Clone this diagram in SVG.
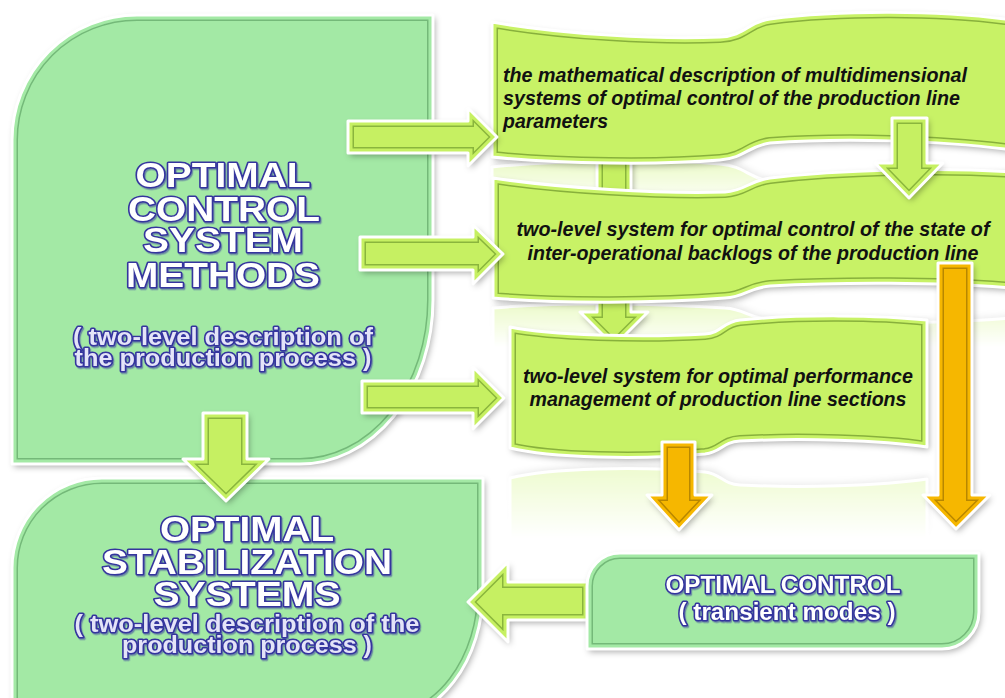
<svg xmlns="http://www.w3.org/2000/svg" xmlns:xlink="http://www.w3.org/1999/xlink" width="1005" height="698" viewBox="0 0 1005 698">
<style>
.nf{fill:#a3e9a5;filter:url(#sh)}
.bf{fill:#c8f266;filter:url(#sh)}
.gf{fill:#c6f062;filter:url(#sh)}
.of{fill:#f6b700;filter:url(#sh)}
.in{fill:none;stroke-width:12}
.in2{fill:none;stroke-width:9}
.nl{stroke:#74b979}.nl2{stroke:#a3e9a5}
.bl{stroke:#88b03c}.bl2{stroke:#c8f266}
.gl{stroke:#8ab53d}.gl2{stroke:#c6f062}
.ol{stroke:#b88700}.ol2{stroke:#f6b700}
.wb{fill:none;stroke:#fff;stroke-width:3;stroke-linejoin:round}
.t{font-family:"Liberation Sans",Arial,sans-serif;font-weight:bold;text-anchor:middle;fill:#fff;stroke:#34349e;stroke-width:3;stroke-linejoin:round;paint-order:stroke;filter:url(#tsh)}
.t36{font-size:35px}
.s24{font-size:23px;fill:#e4e4f8}
.t23{font-size:23px}
.b{font-family:"Liberation Sans",Arial,sans-serif;font-weight:bold;font-style:italic;font-size:19.5px;fill:#111}
.bc{text-anchor:middle}
</style>
<defs>
<filter id="sh" x="-10%" y="-10%" width="125%" height="130%"><feDropShadow dx="2" dy="3" stdDeviation="3" flood-color="#000" flood-opacity="0.32"/></filter>
<filter id="tsh" x="-5%" y="-20%" width="115%" height="150%"><feDropShadow dx="1.2" dy="1.5" stdDeviation="0.6" flood-color="#3a3aa0" flood-opacity="0.55"/></filter>
<linearGradient id="fade" x1="0" y1="0" x2="0" y2="1"><stop offset="0" stop-color="#fff" stop-opacity="0.4"/><stop offset="1" stop-color="#fff" stop-opacity="0"/></linearGradient>
<path id="pN1" d="M137,15 L433,15 L433,300 A133,164 0 0 1 300,464 L12,464 L12,140 A125,125 0 0 1 137,15 Z"/>
<path id="pN2" d="M102,478 L483,478 L483,590 A100,130 0 0 1 383,720 L12,720 L12,568 A90,90 0 0 1 102,478 Z"/>
<path id="pN3" d="M620,553 L979,553 L979,612 A37,37 0 0 1 942,649 L587,649 L587,586 A33,33 0 0 1 620,553 Z"/>
<path id="pB1" d="M492,22 C560,34 660,40 720,37 C745,36 748,22 770,19 C840,10 940,10 1012,20 L1012,150 C940,140 840,138 770,143 C748,146 745,158 720,160 C660,165 560,164 492,157 Z"/>
<path id="pB2" d="M493,178 C560,188 660,194 725,192 C745,191 748,181 770,178 C840,170 940,167 1012,172 L1012,288 C940,282 840,282 770,286 C748,288 745,297 725,298 C660,303 560,304 493,298 Z"/>
<path id="pB3" d="M510,327 C550,335 640,338 705,334 C722,333 722,322 740,320 C800,314 880,315 927,320 L927,447 C880,440 800,438 740,441 C722,442 722,452 705,454 C640,460 550,458 510,448 Z"/>
<path id="pA" d="M348,121 L468,121 L468,108 L497,137 L468,166 L468,153 L348,153 Z"/>
<path id="pB" d="M360,237 L473,237 L473,225 L503,254 L473,284 L473,270 L360,270 Z"/>
<path id="pC" d="M362,381 L473,381 L473,367 L504,398 L473,429 L473,413 L362,413 Z"/>
<path id="pD1" d="M203,413 L247,413 L247,459 L269,459 L226,501 L183,459 L203,459 Z"/>
<path id="pD2" d="M892,118 L927,118 L927,163 L943,163 L909,198 L875,163 L892,163 Z"/>
<path id="pH" d="M597,150 L631,150 L631,312 L648,312 L614,346 L580,312 L597,312 Z"/>
<path id="pO1" d="M662,442 L695,442 L695,495 L712,495 L679,530 L647,495 L662,495 Z"/>
<path id="pO2" d="M938,263 L972,263 L972,495 L990,495 L956,529 L923,495 L938,495 Z"/>
<path id="pL" d="M588,582 L508,582 L508,562 L468,602 L508,642 L508,620 L588,620 Z"/>
<clipPath id="cN1"><use xlink:href="#pN1"/></clipPath>
<clipPath id="cN2"><use xlink:href="#pN2"/></clipPath>
<clipPath id="cN3"><use xlink:href="#pN3"/></clipPath>
<clipPath id="cB1"><use xlink:href="#pB1"/></clipPath>
<clipPath id="cB2"><use xlink:href="#pB2"/></clipPath>
<clipPath id="cB3"><use xlink:href="#pB3"/></clipPath>
<clipPath id="cA"><use xlink:href="#pA"/></clipPath>
<clipPath id="cB"><use xlink:href="#pB"/></clipPath>
<clipPath id="cC"><use xlink:href="#pC"/></clipPath>
<clipPath id="cD1"><use xlink:href="#pD1"/></clipPath>
<clipPath id="cD2"><use xlink:href="#pD2"/></clipPath>
<clipPath id="cH"><use xlink:href="#pH"/></clipPath>
<clipPath id="cO1"><use xlink:href="#pO1"/></clipPath>
<clipPath id="cO2"><use xlink:href="#pO2"/></clipPath>
<clipPath id="cL"><use xlink:href="#pL"/></clipPath>
<mask id="m1" maskUnits="userSpaceOnUse" x="470" y="150" width="560" height="70"><rect x="470" y="156" width="560" height="50" fill="url(#fade)"/></mask>
<mask id="m2" maskUnits="userSpaceOnUse" x="470" y="290" width="560" height="70"><rect x="470" y="297" width="560" height="50" fill="url(#fade)"/></mask>
<mask id="m3" maskUnits="userSpaceOnUse" x="470" y="440" width="560" height="120"><rect x="470" y="448" width="560" height="90" fill="url(#fade)"/></mask>
</defs>
<rect width="1005" height="698" fill="#fff"/>

<g id="node-methods">
<use xlink:href="#pN1" class="nf"/>
<use xlink:href="#pN1" class="in nl" clip-path="url(#cN1)"/>
<use xlink:href="#pN1" class="in2 nl2" clip-path="url(#cN1)"/>
<use xlink:href="#pN1" class="wb"/>
<text class="t t36" x="223" y="187" textLength="175" lengthAdjust="spacingAndGlyphs">OPTIMAL</text>
<text class="t t36" x="224" y="221" textLength="192" lengthAdjust="spacingAndGlyphs">CONTROL</text>
<text class="t t36" x="223" y="252" textLength="160" lengthAdjust="spacingAndGlyphs">SYSTEM</text>
<text class="t t36" x="223" y="287" textLength="194" lengthAdjust="spacingAndGlyphs">METHODS</text>
<text class="t s24" x="223" y="345" textLength="300" lengthAdjust="spacingAndGlyphs">( two-level description of</text>
<text class="t s24" x="223" y="366" textLength="297" lengthAdjust="spacingAndGlyphs">the production process )</text>
</g>

<g id="node-stabilization">
<use xlink:href="#pN2" class="nf"/>
<use xlink:href="#pN2" class="in nl" clip-path="url(#cN2)"/>
<use xlink:href="#pN2" class="in2 nl2" clip-path="url(#cN2)"/>
<use xlink:href="#pN2" class="wb"/>
<text class="t t36" x="247" y="541" textLength="174" lengthAdjust="spacingAndGlyphs">OPTIMAL</text>
<text class="t t36" x="247" y="574" textLength="290" lengthAdjust="spacingAndGlyphs">STABILIZATION</text>
<text class="t t36" x="247" y="606" textLength="187" lengthAdjust="spacingAndGlyphs">SYSTEMS</text>
<text class="t s24" x="247" y="632" textLength="345" lengthAdjust="spacingAndGlyphs">( two-level description of the</text>
<text class="t s24" x="247" y="653" textLength="250" lengthAdjust="spacingAndGlyphs">production process )</text>
</g>

<g id="reflections">
<g mask="url(#m1)"><g transform="matrix(1,0,0,-1,0,324)"><use xlink:href="#pB1" class="bf"/><use xlink:href="#pB1" class="wb"/></g></g>
<g mask="url(#m2)"><g transform="matrix(1,0,0,-1,0,606)"><use xlink:href="#pB2" class="bf"/><use xlink:href="#pB2" class="wb"/></g></g>
<g mask="url(#m3)"><g transform="matrix(1,0,0,-1,0,926)"><use xlink:href="#pB3" class="bf"/><use xlink:href="#pB3" class="wb"/></g></g>
</g>

<g id="connectors-back">
<g id="arrow-math-to-sections">
<use xlink:href="#pH" class="gf"/>
<use xlink:href="#pH" class="in gl" clip-path="url(#cH)"/>
<use xlink:href="#pH" class="in2 gl2" clip-path="url(#cH)"/>
<use xlink:href="#pH" class="wb"/>
</g>
</g>

<g id="node-math">
<use xlink:href="#pB1" class="bf"/>
<use xlink:href="#pB1" class="in bl" clip-path="url(#cB1)"/>
<use xlink:href="#pB1" class="in2 bl2" clip-path="url(#cB1)"/>
<use xlink:href="#pB1" class="wb"/>
<text class="b" x="503" y="82" textLength="464" lengthAdjust="spacingAndGlyphs">the mathematical description of multidimensional</text>
<text class="b" x="503" y="105" textLength="457" lengthAdjust="spacingAndGlyphs">systems of optimal control of the production line</text>
<text class="b" x="503" y="128" textLength="105" lengthAdjust="spacingAndGlyphs">parameters</text>
</g>

<g id="node-backlogs">
<use xlink:href="#pB2" class="bf"/>
<use xlink:href="#pB2" class="in bl" clip-path="url(#cB2)"/>
<use xlink:href="#pB2" class="in2 bl2" clip-path="url(#cB2)"/>
<use xlink:href="#pB2" class="wb"/>
<text class="b bc" x="753" y="236" textLength="473" lengthAdjust="spacingAndGlyphs">two-level system for optimal control of the state of</text>
<text class="b bc" x="753" y="260" textLength="451" lengthAdjust="spacingAndGlyphs">inter-operational backlogs of the production line</text>
</g>

<g id="node-sections">
<use xlink:href="#pB3" class="bf"/>
<use xlink:href="#pB3" class="in bl" clip-path="url(#cB3)"/>
<use xlink:href="#pB3" class="in2 bl2" clip-path="url(#cB3)"/>
<use xlink:href="#pB3" class="wb"/>
<text class="b bc" x="718" y="383" textLength="390" lengthAdjust="spacingAndGlyphs">two-level system for optimal performance</text>
<text class="b bc" x="718" y="406" textLength="377" lengthAdjust="spacingAndGlyphs">management of production line sections</text>
</g>

<g id="connectors">
<g id="arrow-methods-to-math">
<use xlink:href="#pA" class="gf"/><use xlink:href="#pA" class="in gl" clip-path="url(#cA)"/><use xlink:href="#pA" class="in2 gl2" clip-path="url(#cA)"/><use xlink:href="#pA" class="wb"/>
</g>
<g id="arrow-methods-to-backlogs">
<use xlink:href="#pB" class="gf"/><use xlink:href="#pB" class="in gl" clip-path="url(#cB)"/><use xlink:href="#pB" class="in2 gl2" clip-path="url(#cB)"/><use xlink:href="#pB" class="wb"/>
</g>
<g id="arrow-methods-to-sections">
<use xlink:href="#pC" class="gf"/><use xlink:href="#pC" class="in gl" clip-path="url(#cC)"/><use xlink:href="#pC" class="in2 gl2" clip-path="url(#cC)"/><use xlink:href="#pC" class="wb"/>
</g>
<g id="arrow-methods-to-stabilization">
<use xlink:href="#pD1" class="gf"/><use xlink:href="#pD1" class="in gl" clip-path="url(#cD1)"/><use xlink:href="#pD1" class="in2 gl2" clip-path="url(#cD1)"/><use xlink:href="#pD1" class="wb"/>
</g>
<g id="arrow-math-to-backlogs">
<use xlink:href="#pD2" class="gf"/><use xlink:href="#pD2" class="in gl" clip-path="url(#cD2)"/><use xlink:href="#pD2" class="in2 gl2" clip-path="url(#cD2)"/><use xlink:href="#pD2" class="wb"/>
</g>
<g id="arrow-sections-to-control">
<use xlink:href="#pO1" class="of"/><use xlink:href="#pO1" class="in ol" clip-path="url(#cO1)"/><use xlink:href="#pO1" class="in2 ol2" clip-path="url(#cO1)"/><use xlink:href="#pO1" class="wb"/>
</g>
<g id="arrow-backlogs-to-control">
<use xlink:href="#pO2" class="of"/><use xlink:href="#pO2" class="in ol" clip-path="url(#cO2)"/><use xlink:href="#pO2" class="in2 ol2" clip-path="url(#cO2)"/><use xlink:href="#pO2" class="wb"/>
</g>
<g id="arrow-control-to-stabilization">
<use xlink:href="#pL" class="gf"/><use xlink:href="#pL" class="in gl" clip-path="url(#cL)"/><use xlink:href="#pL" class="in2 gl2" clip-path="url(#cL)"/><use xlink:href="#pL" class="wb"/>
</g>
</g>

<g id="node-control">
<use xlink:href="#pN3" class="nf"/>
<use xlink:href="#pN3" class="in nl" clip-path="url(#cN3)"/>
<use xlink:href="#pN3" class="in2 nl2" clip-path="url(#cN3)"/>
<use xlink:href="#pN3" class="wb"/>
<text class="t t23" x="783" y="593" textLength="235" lengthAdjust="spacingAndGlyphs">OPTIMAL CONTROL</text>
<text class="t t23" x="787" y="620" textLength="217" lengthAdjust="spacingAndGlyphs">( transient modes )</text>
</g>
</svg>
